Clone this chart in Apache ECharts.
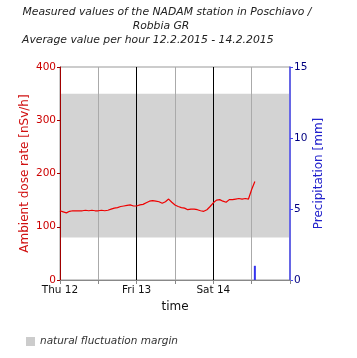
<!DOCTYPE html>
<html><head><meta charset="utf-8">
<script src="https://cdn.jsdelivr.net/npm/echarts@6/dist/echarts.min.js"></script>
<style>html,body{margin:0;padding:0;background:#fff}#c{width:357px;height:358px}</style>
</head><body><div id="c"></div>
<script>
// hours since Thu 12.2.2015 00:00
var dayLabels = ['Thu 12', 'Fri 13', 'Sat 14'];
var doseHours = [0,1,2,3,4,5,6,7,8,9,10,11,12,13,14,15,16,17,18,19,20,21,22,23,24,25,26,27,28,29,30,31,32,33,34,35,36,37,38,39,40,41,42,43,44,45,46,47,48,49,50,51,52,53,54,55,56,57,58,59,60,61];
var doseRate = [130,128,126,129,130,130,130,130,131,130,131,130,130,131,130,131,133,135,136,138,139,140,141,139,139,141,142,145,148,149,148,147,144,147,152,146,141,138,136,135,132,133,133,132,130,129,132,138,145,150,151,148,146,151,151,152,153,152,153,152,170,185];
var precipHours = [61];
var precipValues = [1.0];
var marginLow = 80, marginHigh = 350;

var chart = echarts.init(document.getElementById('c'), null, {renderer:'canvas'});
var font = 'DejaVu Sans';
var titleStyle = {fontSize: 10.8, fontStyle: 'italic', fontWeight: 'normal', color: '#222', fontFamily: font};
chart.setOption({
  animation: false,
  textStyle: {fontFamily: font},
  title: [
    {text: 'Measured values of the NADAM station in Poschiavo /', left: 167, top: 7, textAlign: 'center', padding: 0, textStyle: titleStyle},
    {text: 'Robbia GR', left: 161, top: 21, textAlign: 'center', padding: 0, textStyle: titleStyle},
    {text: 'Average value per hour 12.2.2015 - 14.2.2015', left: 22, top: 35, padding: 0, textStyle: titleStyle}
  ],
  legend: {left: 26, top: 336, padding: 0, icon: 'rect', itemWidth: 9, itemHeight: 9, itemGap: 4,
    data: ['natural fluctuation margin'],
    textStyle: {fontSize: 10.5, fontStyle: 'italic', color: '#333', fontFamily: font}},
  grid: {left: 60, right: 67, top: 67, bottom: 78, show: true, borderColor: '#999', borderWidth: 1, backgroundColor: 'transparent'},
  xAxis: {
    type: 'value', min: 0, max: 72, interval: 12, z: 3,
    name: 'time', nameLocation: 'middle', nameGap: 20,
    nameTextStyle: {fontSize: 12, color: '#111'},
    axisLine: {lineStyle: {color: '#888'}},
    axisTick: {show: true, length: 4, lineStyle: {color: '#888'}},
    axisLabel: {margin: 5, fontSize: 10.5, color: '#111', showMaxLabel: true,
      formatter: function (v) { return (v % 24 === 0 && v / 24 < dayLabels.length) ? dayLabels[v / 24] : ''; }},
    splitLine: {show: true, showMinLine: false, showMaxLine: false, lineStyle: {color: ['#aaa', '#000'], width: 1}}
  },
  yAxis: [
    {type: 'value', min: 0, max: 400, interval: 100, position: 'left', z: 3,
     name: 'Ambient dose rate [nSv/h]', nameLocation: 'middle', nameGap: 29, nameMoveOverlap: false,
     nameTextStyle: {fontSize: 12, color: '#d01010'},
     axisLine: {show: true, lineStyle: {color: '#a00000'}},
     axisTick: {show: true, length: 3, lineStyle: {color: '#a00000'}},
     axisLabel: {margin: 4, fontSize: 10.5, color: '#cc0000'},
     splitLine: {show: false}},
    {type: 'value', min: 0, max: 15, interval: 5, position: 'right', z: 3,
     name: 'Precipitation [mm]', nameLocation: 'middle', nameGap: 23, nameMoveOverlap: false,
     nameTextStyle: {fontSize: 12, color: '#2222cc'},
     axisLine: {show: true, lineStyle: {color: '#4444ee', width: 1.5}},
     axisTick: {show: true, length: 3, lineStyle: {color: '#4444ee'}},
     axisLabel: {margin: 4, fontSize: 10.5, color: '#000080'},
     splitLine: {show: false}}
  ],
  series: [
    {name: 'natural fluctuation margin', type: 'line', data: [], yAxisIndex: 0, color: '#cccccc', z: 1,
     markArea: {silent: true, z: 1, itemStyle: {color: '#d3d3d3'}, data: [[{yAxis: marginLow}, {yAxis: marginHigh}]]}},
    {name: 'dose', type: 'line', yAxisIndex: 0, showSymbol: false, symbol: 'none',
     lineStyle: {color: '#ee0000', width: 1.2}, color: '#ee0000', z: 5,
     data: doseHours.map(function (h, i) { return [h, doseRate[i]]; })},
    {name: 'precip', type: 'bar', yAxisIndex: 1, barWidth: 2, itemStyle: {color: '#3333ee'}, z: 4,
     data: precipHours.map(function (h, i) { return [h, precipValues[i]]; })}
  ]
});
</script></body></html>
